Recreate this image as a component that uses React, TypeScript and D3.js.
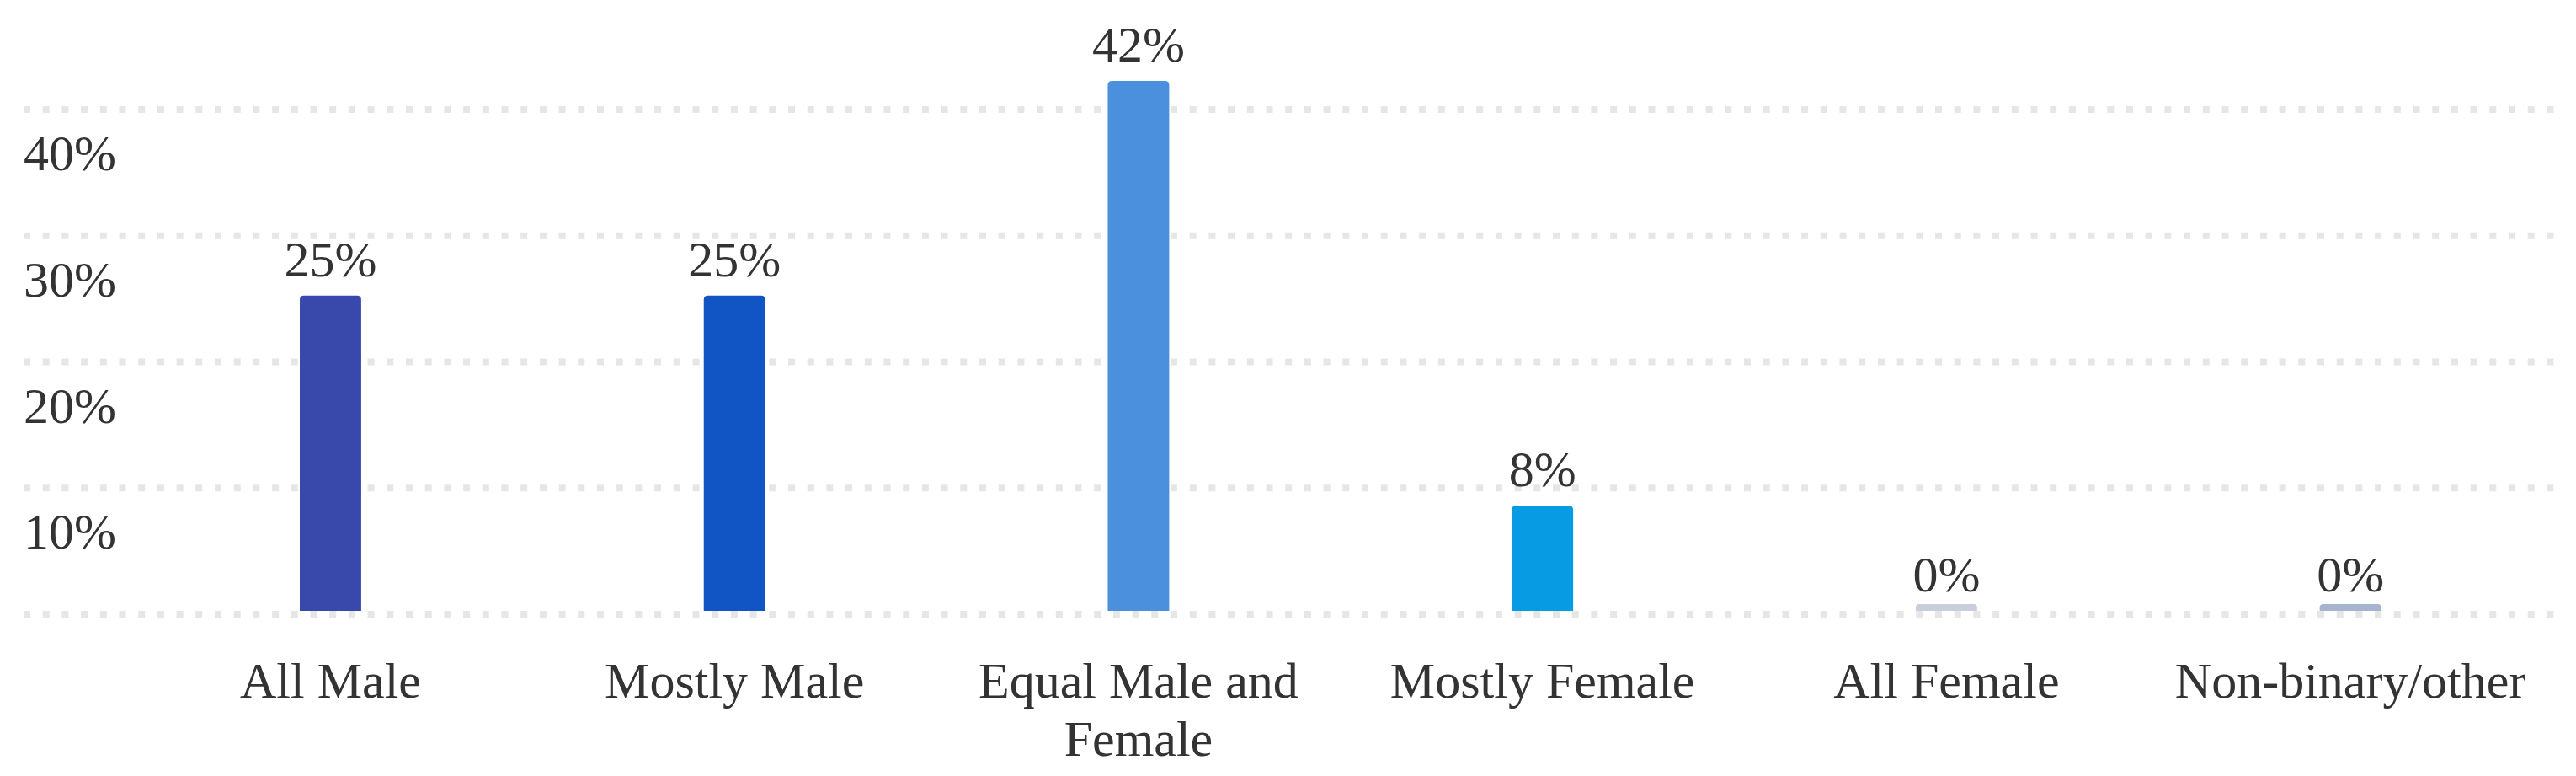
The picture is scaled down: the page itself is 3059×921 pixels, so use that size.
import React, { useEffect, useRef } from "react";
import * as d3 from "d3";

const categories = ["All Male", "Mostly Male", "Equal Male and Female", "Mostly Female", "All Female", "Non-binary/other"];
const values = [25, 25, 42, 8.33, 0, 0];
const valueLabels = ["25%", "25%", "42%", "8%", "0%", "0%"];
const barColors = ["#3949AB", "#1155C4", "#4A90DC", "#069BE3", "#C9CEDC", "#A5B4CF"];
const gridTicks = [0, 10, 20, 30, 40];
const tickLabels = ["10%", "20%", "30%", "40%"];
const tickValues = [10, 20, 30, 40];

const W = 3059;
const H = 921;
const FONT = "'Liberation Serif', 'Times New Roman', serif";

export default function App() {
  const ref = useRef<SVGSVGElement | null>(null);

  useEffect(() => {
    const svg = d3.select(ref.current);
    svg.selectAll("*").remove();

    const x = d3.scaleBand<string>().domain(categories).range([152.6, 3031]).paddingInner(0.848).paddingOuter(0.424);
    const y = d3.scaleLinear().domain([0, 40]).range([725, 126]);

    // gridlines
    svg.append("g")
      .selectAll("line")
      .data(gridTicks)
      .join("line")
      .attr("x1", 28)
      .attr("x2", 3040)
      .attr("y1", (d) => y(d) + 4)
      .attr("y2", (d) => y(d) + 4)
      .attr("stroke", "#e6e6e6")
      .attr("stroke-width", 8)
      .attr("stroke-dasharray", "8 14.7");

    // y tick labels
    svg.append("g")
      .selectAll("text")
      .data(tickValues)
      .join("text")
      .attr("x", 138)
      .attr("y", (d) => y(d) + 76)
      .attr("text-anchor", "end")
      .attr("font-family", FONT)
      .attr("font-size", 60)
      .attr("fill", "#333")
      .text((d, i) => tickLabels[i]);

    const minStub = 8;
    const r = 5;
    const barPath = (i: number) => {
      const x0 = x(categories[i])!;
      const w = x.bandwidth();
      const base = y(0);
      const top = Math.min(y(values[i]), base - minStub);
      const rr = Math.min(r, (base - top) / 2);
      return `M${x0},${base}V${top + rr}Q${x0},${top} ${x0 + rr},${top}H${x0 + w - rr}Q${x0 + w},${top} ${x0 + w},${top + rr}V${base}Z`;
    };

    svg.append("g")
      .selectAll("path")
      .data(values)
      .join("path")
      .attr("d", (d, i) => barPath(i))
      .attr("fill", (d, i) => barColors[i]);

    // value labels
    svg.append("g")
      .selectAll("text")
      .data(values)
      .join("text")
      .attr("x", (d, i) => x(categories[i])! + x.bandwidth() / 2)
      .attr("y", (d) => y(d) - 23)
      .attr("text-anchor", "middle")
      .attr("font-family", FONT)
      .attr("font-size", 60)
      .attr("fill", "#333")
      .text((d, i) => valueLabels[i]);

    // category labels with wrapping
    const maxW = x.step() * 0.95;
    const catG = svg.append("g");
    categories.forEach((c, i) => {
      const cx = x(c)! + x.bandwidth() / 2;
      const t = catG.append("text")
        .attr("x", cx)
        .attr("y", y(0) + 103)
        .attr("text-anchor", "middle")
        .attr("font-family", FONT)
        .attr("font-size", 60)
        .attr("fill", "#333");
      const words = c.split(" ");
      let line: string[] = [];
      let lineNo = 0;
      let tspan = t.append("tspan").attr("x", cx).attr("dy", 0);
      words.forEach((w) => {
        line.push(w);
        tspan.text(line.join(" "));
        const node = tspan.node() as SVGTSpanElement;
        if (node.getComputedTextLength() > maxW && line.length > 1) {
          line.pop();
          tspan.text(line.join(" "));
          line = [w];
          lineNo++;
          tspan = t.append("tspan").attr("x", cx).attr("dy", 69).text(w);
        }
      });
    });
  }, []);

  return (
    <svg
      ref={ref}
      width={W}
      height={H}
      style={{ position: "absolute", left: 0, top: 0, background: "#fff" }}
    />
  );
}
